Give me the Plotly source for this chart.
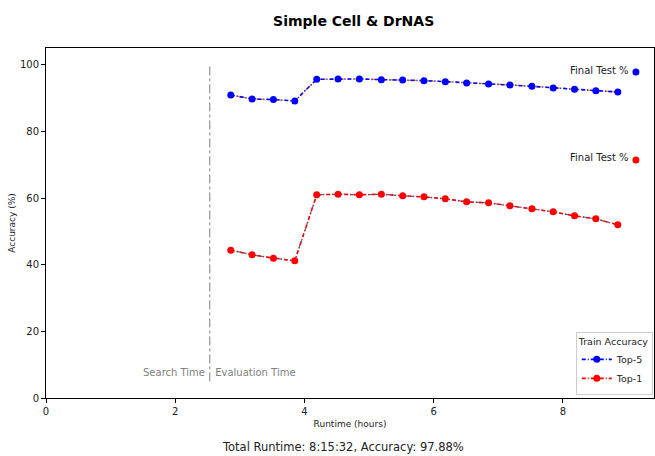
import plotly.graph_objects as go

runtime_h = [2.86, 3.19, 3.52, 3.85, 4.19, 4.52, 4.85, 5.19, 5.52, 5.85,
             6.18, 6.51, 6.85, 7.18, 7.52, 7.85, 8.18, 8.51, 8.85]
top5 = [91.0, 89.8, 89.6, 89.2, 95.7, 95.8, 95.8, 95.6, 95.5, 95.3,
        95.0, 94.6, 94.3, 94.0, 93.6, 93.1, 92.7, 92.3, 91.9]
top1 = [44.4, 43.0, 42.0, 41.2, 61.0, 61.2, 61.0, 61.2, 60.7, 60.4,
        59.8, 58.9, 58.6, 57.7, 56.8, 55.9, 54.7, 53.8, 52.0]
final_x = 9.13
final_top5 = 97.88
final_top1 = 71.5
search_end = 2.535
title = "Simple Cell & DrNAS"
footer = "Total Runtime: 8:15:32, Accuracy: 97.88%"

FONT = "DejaVu Sans"
DASH = "4px,2px,1px,2px"
fig = go.Figure()

# underlying thin lines
fig.add_trace(go.Scatter(x=runtime_h, y=top5, mode="lines",
                         line=dict(color="#ff7f0e", width=1.2, dash="dot"),
                         showlegend=False, hoverinfo="skip"))
fig.add_trace(go.Scatter(x=runtime_h, y=top1, mode="lines",
                         line=dict(color="#1f77b4", width=1.2, dash="dot"),
                         showlegend=False, hoverinfo="skip"))

fig.add_trace(go.Scatter(x=runtime_h, y=top5, mode="lines+markers", name="Top-5",
                         line=dict(color="blue", width=1.6, dash=DASH),
                         marker=dict(color="blue", size=7)))
fig.add_trace(go.Scatter(x=runtime_h, y=top1, mode="lines+markers", name="Top-1",
                         line=dict(color="red", width=1.6, dash=DASH),
                         marker=dict(color="red", size=7)))

fig.add_trace(go.Scatter(x=[final_x, final_x], y=[final_top5, final_top1], mode="markers",
                         marker=dict(color=["blue", "red"], size=7),
                         showlegend=False))
for yv in (final_top5, final_top1):
    fig.add_annotation(x=final_x, y=yv, text="Final Test %", xanchor="right", yanchor="middle",
                       xshift=-5, yshift=2, showarrow=False,
                       font=dict(family=FONT, size=10, color="#222"))

fig.add_shape(type="line", x0=search_end, x1=search_end, y0=5, y1=100,
              line=dict(color="gray", width=1, dash="dashdot"))
fig.add_annotation(x=search_end, y=7.8, text="Search Time ", xanchor="right", showarrow=False,
                   font=dict(family=FONT, size=10, color="gray"))
fig.add_annotation(x=search_end, y=7.8, text=" Evaluation Time", xanchor="left", showarrow=False,
                   font=dict(family=FONT, size=10, color="gray"))

fig.add_annotation(xref="paper", yref="paper", x=0.488, y=-0.14, yanchor="middle",
                   text=footer, showarrow=False,
                   font=dict(family=FONT, size=11.5, color="#222"))

fig.update_layout(
    width=655, height=456,
    margin=dict(l=46, r=1, t=48, b=58),
    paper_bgcolor="white", plot_bgcolor="white",
    font=dict(family=FONT, size=10, color="#222"),
    title=dict(text="<b>" + title + "</b>", x=0.54, xanchor="center", y=0.965,
               font=dict(family=FONT, size=14, color="black")),
    legend=dict(title=dict(text="Train Accuracy", font=dict(size=9.5)),
                x=0.998, y=0.01, xanchor="right", yanchor="bottom",
                bgcolor="white", bordercolor="#ccc", borderwidth=1,
                font=dict(size=9.5), itemwidth=30, tracegroupgap=0),
)
fig.update_xaxes(range=[0, 9.41], tickvals=[0, 2, 4, 6, 8], showgrid=False, zeroline=False,
                 showline=True, linecolor="black", linewidth=1, mirror=True,
                 ticks="outside", ticklen=4, tickcolor="black",
                 title=dict(text="Runtime (hours)", font=dict(size=9), standoff=4))
fig.update_yaxes(range=[0, 105.1], tickvals=[0, 20, 40, 60, 80, 100], showgrid=False, zeroline=False,
                 showline=True, linecolor="black", linewidth=1, mirror=True,
                 ticks="outside", ticklen=4, tickcolor="black",
                 title=dict(text="Accuracy (%)", font=dict(size=9), standoff=2))

fig.write_html("out.html")
